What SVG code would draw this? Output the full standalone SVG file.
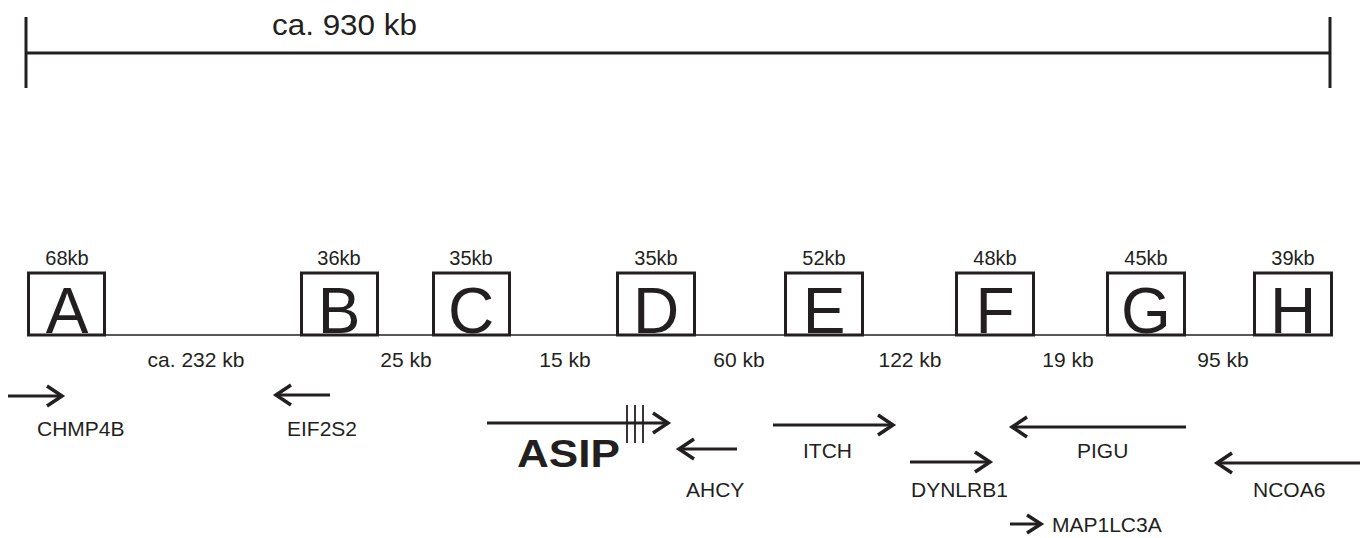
<svg xmlns="http://www.w3.org/2000/svg" width="1365" height="538" viewBox="0 0 1365 538">
<style>
text{font-family:"Liberation Sans",Arial,sans-serif;fill:#231f20}
.box{fill:#fff;stroke:#231f20;stroke-width:3}
.let{font-size:64px;text-anchor:middle}
.kb{font-size:20px;text-anchor:middle}
.gap{font-size:21px;text-anchor:middle}
.gene{font-size:21px}
.ln{fill:none;stroke:#231f20;stroke-width:3;stroke-linecap:butt}
.hd{fill:none;stroke:#231f20;stroke-width:3.5;stroke-linejoin:miter;stroke-linecap:butt}
</style>
<g id="scale">
<line class="ln" x1="26" y1="17" x2="26" y2="88"/>
<line class="ln" x1="1330" y1="17" x2="1330" y2="88"/>
<line class="ln" x1="26" y1="53" x2="1330" y2="53"/>
<text x="272" y="35" style="font-size:30px" textLength="145" lengthAdjust="spacingAndGlyphs">ca. 930 kb</text>
</g>
<g id="connectors">
<line x1="27" y1="335" x2="1333" y2="335" stroke="#231f20" stroke-width="1.5"/>
</g>
<g id="A"><rect class="box" x="28.5" y="273" width="76" height="62"/><text class="let" x="67" y="333">A</text><text class="kb" x="67" y="265">68kb</text></g>
<g id="B"><rect class="box" x="301.5" y="273" width="76" height="62"/><text class="let" x="339" y="333">B</text><text class="kb" x="339" y="265">36kb</text></g>
<g id="C"><rect class="box" x="433.5" y="273" width="76" height="62"/><text class="let" x="471" y="333">C</text><text class="kb" x="471" y="265">35kb</text></g>
<g id="D"><rect class="box" x="617.5" y="273" width="77" height="62"/><text class="let" x="656" y="333">D</text><text class="kb" x="656" y="265">35kb</text></g>
<g id="E"><rect class="box" x="785.5" y="273" width="77" height="62"/><text class="let" x="824" y="333">E</text><text class="kb" x="824" y="265">52kb</text></g>
<g id="F"><rect class="box" x="956.5" y="273" width="77" height="62"/><text class="let" x="995" y="333">F</text><text class="kb" x="995" y="265">48kb</text></g>
<g id="G"><rect class="box" x="1107.5" y="273" width="77" height="62"/><text class="let" x="1146" y="333">G</text><text class="kb" x="1146" y="265">45kb</text></g>
<g id="H"><rect class="box" x="1254.5" y="273" width="77" height="62"/><text class="let" x="1293" y="333">H</text><text class="kb" x="1293" y="265">39kb</text></g>
<g id="gaps">
<text class="gap" x="196" y="367">ca. 232 kb</text>
<text class="gap" x="406" y="367">25 kb</text>
<text class="gap" x="565" y="367">15 kb</text>
<text class="gap" x="739" y="367">60 kb</text>
<text class="gap" x="910" y="367">122 kb</text>
<text class="gap" x="1068" y="367">19 kb</text>
<text class="gap" x="1223" y="367">95 kb</text>
</g>
<g id="CHMP4B"><line class="ln" x1="8" y1="396" x2="62" y2="396"/><path class="hd" d="M47,386 L62,396 L47,406"/><text class="gene" x="37" y="436">CHMP4B</text></g>
<g id="EIF2S2"><line class="ln" x1="330" y1="395" x2="276" y2="395"/><path class="hd" d="M291,385 L276,395 L291,405"/><text class="gene" x="287" y="436">EIF2S2</text></g>
<g id="ASIP"><line class="ln" x1="487" y1="423" x2="668" y2="423"/><path class="hd" d="M653,413 L668,423 L653,433"/>
<line x1="627" y1="405" x2="627" y2="443" stroke="#231f20" stroke-width="1.8"/>
<line x1="635" y1="405" x2="635" y2="443" stroke="#231f20" stroke-width="1.8"/>
<line x1="643" y1="405" x2="643" y2="443" stroke="#231f20" stroke-width="1.8"/>
<text x="517" y="467" style="font-size:38px;font-weight:bold" textLength="103" lengthAdjust="spacingAndGlyphs">ASIP</text></g>
<g id="AHCY"><line class="ln" x1="737" y1="449" x2="679" y2="449"/><path class="hd" d="M694,439 L679,449 L694,459"/><text class="gene" x="686" y="497">AHCY</text></g>
<g id="ITCH"><line class="ln" x1="773" y1="425" x2="893" y2="425"/><path class="hd" d="M878,415 L893,425 L878,435"/><text class="gene" x="803" y="458">ITCH</text></g>
<g id="DYNLRB1"><line class="ln" x1="910" y1="462" x2="990" y2="462"/><path class="hd" d="M975,452 L990,462 L975,472"/><text class="gene" x="911" y="497">DYNLRB1</text></g>
<g id="PIGU"><line class="ln" x1="1186" y1="427" x2="1012" y2="427"/><path class="hd" d="M1027,417 L1012,427 L1027,437"/><text class="gene" x="1077" y="458">PIGU</text></g>
<g id="NCOA6"><line class="ln" x1="1360" y1="463" x2="1217" y2="463"/><path class="hd" d="M1232,453 L1217,463 L1232,473"/><text class="gene" x="1253" y="497">NCOA6</text></g>
<g id="MAP1LC3A"><line class="ln" x1="1010" y1="524" x2="1041" y2="524"/><path class="hd" d="M1027,515 L1041,524 L1027,533"/><text class="gene" x="1052" y="532">MAP1LC3A</text></g>
</svg>
